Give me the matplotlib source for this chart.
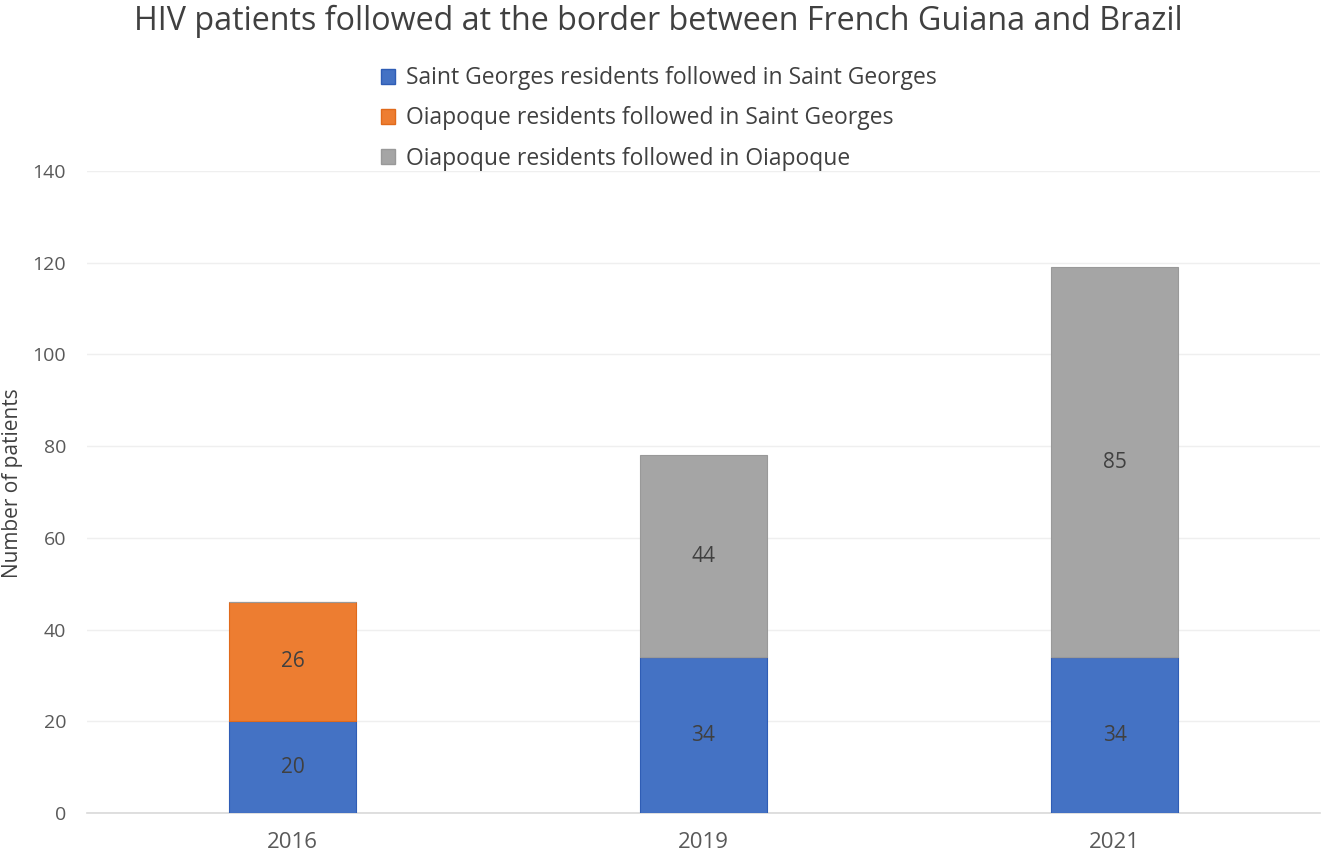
import numpy as np
import matplotlib.pyplot as plt
from matplotlib.patches import Patch

plt.rcParams['font.family'] = ['Open Sans', 'DejaVu Sans']

years = ['2016', '2019', '2021']
sg_in_sg = [20, 34, 34]
oia_in_sg = [26, 0, 0]
oia_in_oia = [0, 44, 85]
series_names = ['Saint Georges residents followed in Saint Georges',
                'Oiapoque residents followed in Saint Georges',
                'Oiapoque residents followed in Oiapoque']
colors = ['#4472C4', '#ED7D31', '#A5A5A5']
edges = ['#2F5DB5', '#E06A1B', '#999999']

fig = plt.figure(figsize=(13.25, 8.58), dpi=100)
ax = fig.add_axes([87 / 1325, 1 - 813 / 858, 1233 / 1325, 642 / 858])

x = np.arange(len(years))
width = 0.31
bottom = np.zeros(len(years))
for vals, c, e in zip([sg_in_sg, oia_in_sg, oia_in_oia], colors, edges):
    vals = np.array(vals, dtype=float)
    bars = ax.bar(x, vals, width, bottom=bottom, color=c, edgecolor=e, linewidth=0.8, zorder=3)
    for b, v, b0 in zip(bars, vals, bottom):
        if v > 0:
            ax.text(b.get_x() + b.get_width() / 2, b0 + v / 2, f'{int(v)}',
                    ha='center', va='center', fontsize=15, color='#404040', zorder=4)
    bottom += vals

ax.set_xlim(-0.5, 2.5)
ax.set_ylim(0, 140)
ax.set_yticks(np.arange(0, 141, 20))
ax.set_xticks(x)
ax.set_xticklabels(years)
ax.tick_params(axis='both', length=0, colors='#595959')
ax.tick_params(axis='y', pad=15, labelsize=14)
ax.tick_params(axis='x', pad=14, labelsize=16)
ax.grid(axis='y', color='#EFEFEF', linewidth=1, zorder=0)
for s in ['top', 'right', 'left']:
    ax.spines[s].set_visible(False)
ax.spines['bottom'].set_color('#D9D9D9')
ax.spines['bottom'].set_linewidth(1.2)

fig.text(13 / 1325, 1 - 483 / 858, 'Number of patients', rotation=90,
         ha='center', va='center', fontsize=15, color='#404040')
fig.text(658 / 1325, 1 - 21 / 858, 'HIV patients followed at the border between French Guiana and Brazil',
         ha='center', va='center', fontsize=23.2, color='#404040')

handles = [Patch(facecolor=c, edgecolor=e) for c, e in zip(colors, edges)]
fig.legend(handles, series_names, loc='upper left', bbox_to_anchor=(370 / 1325, 1 - 55 / 858),
           frameon=False, fontsize=16.5, labelcolor='#404040', handlelength=0.6, handleheight=0.6,
           handletextpad=0.45, labelspacing=0.7, borderpad=0)

fig.savefig('out.png', dpi=100)
